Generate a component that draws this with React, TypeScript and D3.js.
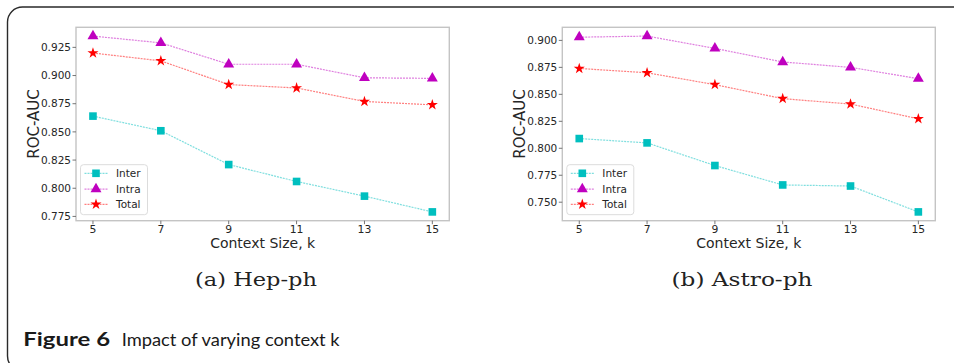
import React from "react";
import * as d3 from "d3";

// Context sizes on the x axis
const contextSizes = [5, 7, 9, 11, 13, 15];

// Hep-ph ROC-AUC per context size
const hepInter = [0.864, 0.851, 0.821, 0.806, 0.793, 0.779];
const hepIntra = [0.935, 0.929, 0.91, 0.91, 0.898, 0.8975];
const hepTotal = [0.92, 0.913, 0.892, 0.889, 0.877, 0.874];

// Astro-ph ROC-AUC per context size
const astroInter = [0.809, 0.805, 0.784, 0.766, 0.765, 0.741];
const astroIntra = [0.903, 0.904, 0.8926, 0.88, 0.875, 0.8645];
const astroTotal = [0.874, 0.87, 0.859, 0.846, 0.841, 0.8273];

// Tick labels
const hepYTicks = ["0.775", "0.800", "0.825", "0.850", "0.875", "0.900", "0.925"];
const astroYTicks = ["0.750", "0.775", "0.800", "0.825", "0.850", "0.875", "0.900"];
const xTicks = ["5", "7", "9", "11", "13", "15"];

const seriesNames = ["Inter", "Intra", "Total"];
const subCaptions = ["(a) Hep-ph", "(b) Astro-ph"];
const figureLabel = "Figure 6";
const figureText = "Impact of varying context k";

const W = 954;
const H = 363;
const SANS = "'DejaVu Sans', sans-serif";

const markerColors = ["#00bfbf", "#bf00bf", "#ff0000"];
const symbolTypes = [d3.symbolSquare, d3.symbolTriangle, d3.symbolStar];
const symbolSizes = [58, 52, 38];

type PanelProps = {
  left: number;
  right: number;
  top: number;
  bottom: number;
  series: number[][];
  yTicks: string[];
};

function Marker({ i, x, y }: { i: number; x: number; y: number }) {
  const path = d3.symbol().type(symbolTypes[i]).size(symbolSizes[i])()!;
  return <path d={path} transform={`translate(${x},${y})`} fill={markerColors[i]} />;
}

function Panel({ left, right, top, bottom, series, yTicks }: PanelProps) {
  // matplotlib-style autoscale: 5% padding on each side
  const all = series.flat();
  const lo = d3.min(all)!;
  const hi = d3.max(all)!;
  const pad = (hi - lo) * 0.05;
  const y = d3.scaleLinear().domain([lo - pad, hi + pad]).range([bottom, top]);
  const x = d3.scaleLinear().domain([4.5, 15.5]).range([left, right]);
  const line = d3
    .line<number>()
    .x((_, i) => x(contextSizes[i]))
    .y((d) => y(d));

  const legTop = bottom - 56;
  const rowY = [bottom - 47.4, bottom - 31.6, bottom - 16.4];

  return (
    <g>
      {/* axes frame */}
      <rect
        x={left}
        y={top}
        width={right - left}
        height={bottom - top}
        fill="none"
        stroke="#c4c4c4"
        strokeWidth={1.4}
      />
      {/* y ticks */}
      {yTicks.map((t) => (
        <g key={t}>
          <line x1={left - 3.5} x2={left} y1={y(+t)} y2={y(+t)} stroke="#666" strokeWidth={0.9} />
          <text
            x={left - 5}
            y={y(+t)}
            dy="0.36em"
            textAnchor="end"
            fontFamily={SANS}
            fontSize={10.5}
            fill="#262626"
          >
            {t}
          </text>
        </g>
      ))}
      {/* x ticks */}
      {xTicks.map((t) => (
        <g key={t}>
          <line x1={x(+t)} x2={x(+t)} y1={bottom} y2={bottom + 3.5} stroke="#666" strokeWidth={0.9} />
          <text
            x={x(+t)}
            y={bottom + 11.8}
            textAnchor="middle"
            fontFamily={SANS}
            fontSize={10.8}
            fill="#262626"
          >
            {t}
          </text>
        </g>
      ))}
      {/* axis labels */}
      <text
        x={(left + right) / 2}
        y={bottom + 27}
        textAnchor="middle"
        fontFamily={SANS}
        fontSize={14}
        fill="#262626"
      >
        Context Size, k
      </text>
      <text
        transform={`translate(${left - 37.5},${(top + bottom) / 2}) rotate(-90)`}
        textAnchor="middle"
        fontFamily={SANS}
        fontSize={15}
        fill="#262626"
      >
        ROC-AUC
      </text>
      {/* series */}
      {series.map((vals, i) => (
        <g key={seriesNames[i]}>
          <path
            d={line(vals)!}
            fill="none"
            stroke={markerColors[i]}
            strokeOpacity={0.5}
            strokeWidth={1.2}
            strokeDasharray="2,1"
          />
          {vals.map((v, j) => (
            <Marker key={j} i={i} x={x(contextSizes[j])} y={y(v)} />
          ))}
        </g>
      ))}
      {/* legend */}
      <rect
        x={left + 4.5}
        y={legTop}
        width={67}
        height={50}
        rx={3}
        fill="#fff"
        fillOpacity={0.85}
        stroke="#dcdcdc"
        strokeWidth={1}
      />
      {seriesNames.map((name, i) => (
        <g key={name}>
          <line
            x1={left + 8.5}
            x2={left + 31.5}
            y1={rowY[i]}
            y2={rowY[i]}
            stroke={markerColors[i]}
            strokeOpacity={0.5}
            strokeWidth={1.2}
            strokeDasharray="2,1"
          />
          <Marker i={i} x={left + 20} y={rowY[i]} />
          <text
            x={left + 40}
            y={rowY[i]}
            dy="0.36em"
            fontFamily={SANS}
            fontSize={10.5}
            fill="#262626"
          >
            {name}
          </text>
        </g>
      ))}
    </g>
  );
}

export default function App() {
  const r = 15;
  const fx = 7.5;
  const fy = 7;
  const fr = W + 20;
  const fb = H + 8;
  const frame = `M${fr},${fy} H${fx + r} A${r},${r} 0 0 0 ${fx},${fy + r} V${fb - r} A${r},${r} 0 0 0 ${fx + r},${fb}`;
  const serif = "'DejaVu Serif', serif";
  const capSans = "Lato, 'Open Sans', sans-serif";
  return (
    <svg
      width={W}
      height={H}
      viewBox={`0 0 ${W} ${H}`}
      style={{ position: "absolute", left: 0, top: 0, background: "#fff" }}
    >
      <rect width={W} height={H} fill="#fff" />
      <path d={frame} fill="none" stroke="#2a2a2a" strokeWidth={1.4} />
      <Panel
        left={76}
        right={449.3}
        top={27.3}
        bottom={220.7}
        series={[hepInter, hepIntra, hepTotal]}
        yTicks={hepYTicks}
      />
      <Panel
        left={562.3}
        right={935.3}
        top={27.3}
        bottom={220.7}
        series={[astroInter, astroIntra, astroTotal]}
        yTicks={astroYTicks}
      />
      {/* sub-captions */}
      <text
        x={256}
        y={286}
        textAnchor="middle"
        fontFamily={serif}
        fontSize={19}
        textLength={122}
        lengthAdjust="spacingAndGlyphs"
        fill="#222"
      >
        {subCaptions[0]}
      </text>
      <text
        x={742}
        y={286}
        textAnchor="middle"
        fontFamily={serif}
        fontSize={19}
        textLength={141}
        lengthAdjust="spacingAndGlyphs"
        fill="#222"
      >
        {subCaptions[1]}
      </text>
      {/* figure caption */}
      <text
        x={23.3}
        y={346}
        fontFamily={capSans}
        fontSize={18}
        fontWeight={700}
        textLength={86.7}
        lengthAdjust="spacingAndGlyphs"
        fill="#1a1a1a"
      >
        {figureLabel}
      </text>
      <text
        x={121.7}
        y={346}
        fontFamily={capSans}
        fontSize={18}
        textLength={218}
        lengthAdjust="spacingAndGlyphs"
        fill="#1a1a1a"
      >
        {figureText}
      </text>
    </svg>
  );
}
